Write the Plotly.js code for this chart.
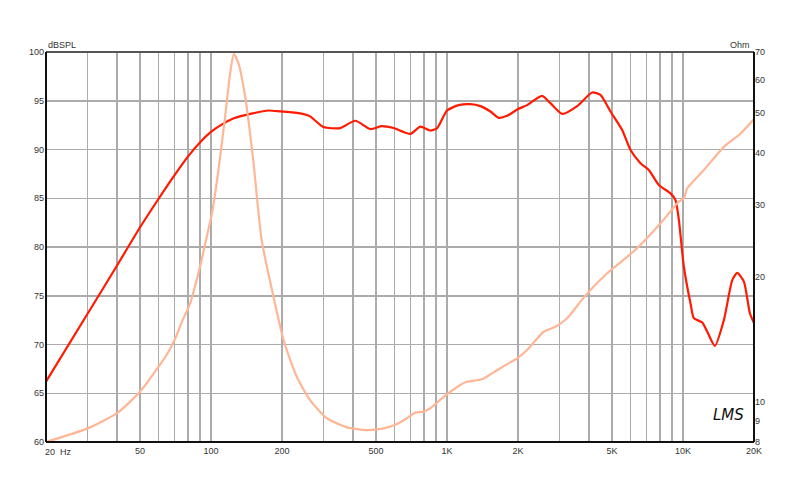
<!DOCTYPE html>
<html>
<head>
<meta charset="utf-8">
<script src="https://cdn.plot.ly/plotly-3.0.1.min.js"></script>
<style>html,body{margin:0;padding:0;background:#fff}#chart{width:800px;height:484px}</style>
</head>
<body>
<div id="chart"></div>
<script>
// SPL frequency response (dB SPL)
var splFreq = [20, 30, 40, 50, 60, 70, 80, 90, 100, 110, 125, 150, 175, 197, 239, 263, 300, 353, 409, 473, 530, 594, 700, 771, 850, 908, 1001, 1121, 1257, 1385, 1528, 1657, 1798, 1983, 2186, 2530, 2744, 3076, 3562, 4124, 4471, 4932, 5526, 5996, 6608, 7168, 7904, 8858, 9302, 9606, 10086, 10766, 11120, 12072, 12678, 13656, 14908, 16180, 16992, 18126, 19214, 20000];
var splDb = [66.2, 73.15, 78.1, 82.0, 84.95, 87.35, 89.3, 90.75, 91.8, 92.5, 93.2, 93.7, 94.0, 93.9, 93.7, 93.4, 92.3, 92.2, 92.95, 92.1, 92.4, 92.2, 91.6, 92.35, 91.95, 92.2, 94.0, 94.55, 94.65, 94.45, 93.9, 93.25, 93.45, 94.1, 94.55, 95.5, 94.75, 93.65, 94.45, 95.85, 95.6, 93.9, 92.0, 89.95, 88.6, 87.9, 86.35, 85.5, 84.8, 82.8, 78.0, 74.2, 72.7, 72.25, 71.3, 69.85, 72.5, 76.6, 77.35, 76.45, 73.2, 72.2];

// Impedance (Ohm)
var impFreq = [20, 30, 40, 50, 60, 66, 70.5, 75.3, 81.6, 90, 96, 101, 107.6, 114.8, 120.6, 125, 130.8, 139.6, 151, 164, 184, 203, 231, 263, 310, 377, 458, 539, 604, 677, 734, 796, 850, 953, 1034, 1196, 1408, 1553, 1769, 1983, 2186, 2570, 2882, 3230, 3678, 4055, 4775, 6296, 8036, 9606, 10086, 10426, 12262, 14908, 17552, 20000];
var impOhm = [8.0, 8.63, 9.39, 10.58, 12.16, 13.2, 14.2, 15.6, 17.3, 21.3, 25.06, 28.54, 36.3, 48.8, 62.2, 69.2, 65.7, 54.6, 38.4, 24.6, 17.95, 14.11, 11.5, 10.1, 9.13, 8.68, 8.55, 8.63, 8.8, 9.13, 9.42, 9.47, 9.65, 10.2, 10.58, 11.15, 11.34, 11.72, 12.27, 12.74, 13.35, 14.77, 15.19, 15.92, 17.46, 18.63, 20.45, 23.3, 27.0, 30.45, 31.0, 32.8, 36.3, 41.3, 44.5, 48.2];

// Axis ticks
var xGridVals = [20,30,40,50,60,70,80,90,100,200,300,400,500,600,700,800,900,1000,2000,3000,4000,5000,6000,7000,8000,9000,10000,20000];
var xLabelMap = {50:'50', 100:'100', 200:'200', 500:'500', 1000:'1K', 2000:'2K', 5000:'5K', 10000:'10K', 20000:'20K'};
var yLeftTicks = [60,65,70,75,80,85,90,95,100];
var yRightTicks = [8,9,10,20,30,40,50,60,70];

var xTickText = xGridVals.map(function(v){ return xLabelMap[v] || ''; });

var tickFont = {family:'Liberation Sans, Arial, sans-serif', size:9, color:'#333'};

var traces = [
  {x: impFreq, y: impOhm, yaxis:'y2', type:'scatter', mode:'lines',
   line:{color:'#ffb696', width:2.2, shape:'spline', smoothing:0.6}, hoverinfo:'none'},
  {x: splFreq, y: splDb, type:'scatter', mode:'lines',
   line:{color:'#ff1a00', width:2.2, shape:'spline', smoothing:0.6}, hoverinfo:'none'}
];

var layout = {
  width:800, height:484,
  margin:{l:46, r:46, t:52, b:42},
  paper_bgcolor:'#fff', plot_bgcolor:'#fff',
  showlegend:false,
  xaxis:{type:'log', range:[Math.log10(20), Math.log10(20000)],
    tickmode:'array', tickvals:xGridVals, ticktext:xTickText,
    showgrid:true, gridcolor:'#ababab', gridwidth:1.5,
    ticks:'', tickfont:tickFont, zeroline:false, showline:false, ticklabelstandoff:2},
  yaxis:{range:[60,100], tickmode:'array', tickvals:yLeftTicks,
    showgrid:true, gridcolor:'#ababab', gridwidth:1.5,
    ticks:'', tickfont:tickFont, zeroline:false, showline:false, ticklabelstandoff:1},
  yaxis2:{type:'log', overlaying:'y', side:'right',
    range:[Math.log10(8), Math.log10(70)], tickmode:'array', tickvals:yRightTicks,
    ticktext:yRightTicks.map(String),
    showgrid:false, ticks:'', tickfont:tickFont, zeroline:false, showline:false},
  shapes:[
    {type:'line', xref:'paper', yref:'paper', x0:0, x1:1, y0:1, y1:1, line:{color:'#555', width:2}},
    {type:'line', xref:'paper', yref:'paper', x0:0, x1:1, y0:0, y1:0, line:{color:'#111', width:2}},
    {type:'line', xref:'paper', yref:'paper', x0:0, x1:0, y0:0, y1:1, line:{color:'#111', width:2}},
    {type:'line', xref:'paper', yref:'paper', x0:1, x1:1, y0:0, y1:1, line:{color:'#111', width:2}}
  ],
  annotations:[
    {text:'dBSPL', xref:'paper', yref:'paper', x:0, y:1, xanchor:'left', yanchor:'bottom', yshift:0,
     showarrow:false, font:{family:'Liberation Sans, Arial, sans-serif', size:9, color:'#333'}},
    {text:'Ohm', xref:'paper', yref:'paper', x:1, y:1, xanchor:'right', yanchor:'bottom', xshift:-2, yshift:0,
     showarrow:false, font:{family:'Liberation Sans, Arial, sans-serif', size:9, color:'#333'}},
    {text:'20', xref:'paper', yref:'paper', x:0, y:0, xanchor:'left', yanchor:'top', xshift:-3, yshift:-3,
     showarrow:false, font:{family:'Liberation Sans, Arial, sans-serif', size:9, color:'#333'}},
    {text:'Hz', xref:'paper', yref:'paper', x:0, y:0, xanchor:'left', yanchor:'top', xshift:12, yshift:-3,
     showarrow:false, font:{family:'Liberation Sans, Arial, sans-serif', size:9, color:'#333'}},
    {text:'<i>LMS</i>', xref:'paper', yref:'paper', x:1, y:0.04, xanchor:'right', yanchor:'bottom', xshift:-8,
     showarrow:false, font:{family:'DejaVu Sans, sans-serif', size:15, color:'#111'}}
  ]
};

Plotly.newPlot('chart', traces, layout, {staticPlot:true, displayModeBar:false});
</script>
</body>
</html>
